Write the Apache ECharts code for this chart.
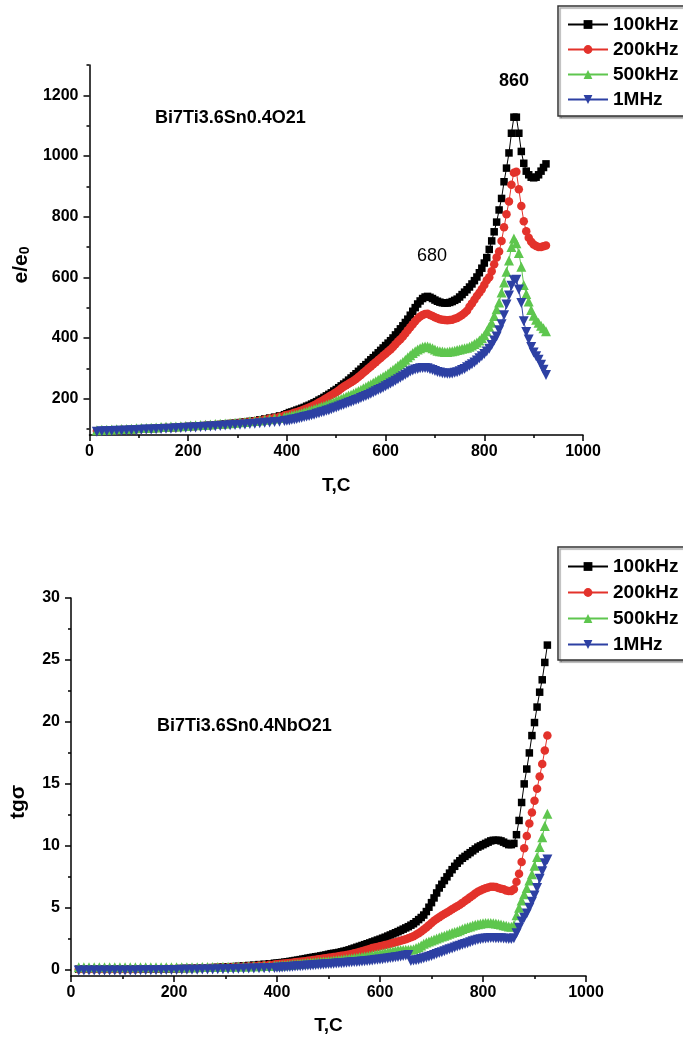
<!DOCTYPE html>
<html>
<head>
<meta charset="utf-8">
<script src="https://cdn.jsdelivr.net/npm/echarts@6/dist/echarts.min.js"></script>
<style>
  body { margin: 0; background: #fff; }
  #chartTop { position: absolute; left: 0; top: 0; width: 683px; height: 520px; }
  #chartBottom { position: absolute; left: 0; top: 520px; width: 683px; height: 520px; }
</style>
</head>
<body>
<div id="chartTop"></div>
<div id="chartBottom"></div>
<script>
// temperature, C (shared by both plots)
var temps = [
  15,25,35,45,55,65,75,85,95,105,
  115,125,135,145,155,165,175,185,195,205,
  215,225,235,245,255,265,275,285,295,305,
  315,325,335,345,355,365,375,385,395,
  400,405,410,415,420,425,430,435,440,445,
  450,455,460,465,470,475,480,485,490,495,
  500,505,510,515,520,525,530,535,540,545,
  550,555,560,565,570,575,580,585,590,595,
  600,605,610,615,620,625,630,635,640,645,
  650,655,660,665,670,675,680,685,690,695,
  700,705,710,715,720,725,730,735,740,745,
  750,755,760,765,770,775,780,785,790,795,
  800,805,810,815,820,825,830,835,840,845,
  850,855,860,865,870,875,880,885,890,895,
  900,905,910,915,920,925
];

// e/e0
var eps100k = [
  93,94,95,95,96,97,97,98,99,100,
  100,101,102,103,104,104,105,106,107,108,
  109,110,111,112,113,115,116,118,119,121,
  123,125,127,130,133,136,139,143,147,
  150,154,156,159,162,165,168,171,175,178,
  182,186,190,195,199,204,209,214,219,225,
  230,236,242,248,254,261,268,275,282,290,
  297,305,312,320,328,335,343,351,359,367,
  375,383,391,400,410,420,430,440,451,462,
  475,488,500,512,522,530,535,537,534,530,
  525,521,518,516,515,515,517,520,524,528,
  535,543,551,559,568,578,589,601,615,630,
  647,665,692,720,750,782,822,860,915,960,
  1010,1075,1128,1128,1075,1015,976,950,938,930,
  928,930,938,950,962,974
];
var eps200k = [
  93,94,95,95,96,97,97,98,99,100,
  100,101,102,103,104,104,105,106,107,108,
  109,110,111,112,113,114,115,117,118,120,
  122,124,126,128,131,134,137,140,144,
  146,148,150,153,155,158,161,164,167,171,
  174,178,182,187,191,196,201,206,211,216,
  221,227,233,239,244,249,254,259,265,271,
  278,285,292,299,306,313,320,327,334,341,
  348,355,362,370,379,388,396,405,415,425,
  435,445,455,464,471,476,479,480,476,472,
  468,465,462,460,459,458,459,460,463,466,
  471,476,482,490,503,514,526,538,549,561,
  575,590,600,620,643,665,685,720,765,808,
  850,905,945,948,890,835,785,752,730,717,
  708,703,700,700,702,705
];
var eps500k = [
  96,97,97,98,99,100,100,101,102,103,
  103,104,105,106,107,108,108,109,110,111,
  112,113,114,115,116,117,118,119,120,122,
  123,125,126,128,130,132,134,136,139,
  140,142,144,146,148,150,152,155,157,160,
  162,165,167,170,173,176,179,182,185,189,
  192,196,199,203,206,210,213,217,221,225,
  229,234,238,243,247,252,257,262,267,272,
  277,283,289,295,301,308,314,321,328,336,
  343,350,356,362,366,370,372,372,369,366,
  362,358,356,355,354,354,355,356,358,360,
  362,364,366,368,371,375,380,385,392,400,
  409,422,437,450,472,495,517,550,583,618,
  655,700,728,712,680,635,575,545,520,492,
  473,460,450,440,432,422
];
var eps1M = [
  91,92,92,93,94,94,95,96,96,97,
  98,98,99,100,101,101,102,103,104,105,
  105,106,107,108,109,110,111,112,113,114,
  115,116,117,119,120,121,123,124,126,
  127,128,130,131,133,135,137,139,141,143,
  145,147,150,152,155,157,160,162,165,168,
  171,174,177,180,183,186,189,192,195,198,
  202,205,209,212,216,220,224,228,232,236,
  241,245,250,254,259,264,269,274,279,284,
  289,293,296,298,300,301,301,300,297,294,
  291,288,286,284,283,282,282,283,285,287,
  290,294,298,303,308,313,319,326,333,340,
  347,355,364,377,392,405,425,445,475,510,
  540,572,590,592,560,515,455,420,395,370,
  352,340,328,312,295,278
];

// tg sigma
var tg100k = [
  0.05,0.05,0.05,0.05,0.05,0.05,0.05,0.05,0.05,0.05,
  0.05,0.05,0.06,0.06,0.06,0.07,0.07,0.08,0.08,0.09,
  0.1,0.11,0.12,0.13,0.14,0.16,0.18,0.2,0.22,0.24,
  0.26,0.29,0.32,0.35,0.38,0.42,0.45,0.49,0.53,
  0.54,0.56,0.59,0.62,0.65,0.68,0.71,0.75,0.78,0.82,
  0.86,0.9,0.94,0.98,1.01,1.05,1.08,1.12,1.16,1.2,
  1.25,1.3,1.33,1.36,1.4,1.45,1.5,1.55,1.61,1.68,
  1.75,1.82,1.89,1.96,2.03,2.1,2.17,2.25,2.32,2.4,
  2.47,2.55,2.63,2.72,2.81,2.9,2.99,3.08,3.18,3.28,
  3.38,3.48,3.6,3.72,3.88,4.05,4.22,4.42,4.7,5.05,
  5.42,5.8,6.2,6.6,6.9,7.2,7.5,7.8,8.08,8.35,
  8.6,8.8,9.0,9.15,9.3,9.45,9.6,9.75,9.9,10.0,
  10.1,10.2,10.3,10.4,10.45,10.45,10.45,10.4,10.3,10.2,
  10.1,10.1,10.2,10.9,12.05,13.5,15.0,16.2,17.5,18.9,
  19.95,21.2,22.4,23.4,24.8,26.2
];
var tg200k = [
  0.05,0.05,0.05,0.05,0.05,0.05,0.05,0.05,0.05,0.05,
  0.05,0.05,0.06,0.06,0.06,0.07,0.07,0.08,0.08,0.09,
  0.1,0.11,0.12,0.13,0.14,0.15,0.16,0.18,0.19,0.21,
  0.23,0.25,0.27,0.29,0.31,0.34,0.37,0.4,0.43,
  0.45,0.47,0.49,0.51,0.53,0.55,0.57,0.6,0.62,0.65,
  0.67,0.7,0.73,0.76,0.79,0.82,0.85,0.88,0.91,0.94,
  0.97,1.0,1.03,1.06,1.09,1.13,1.16,1.2,1.24,1.28,
  1.33,1.38,1.44,1.5,1.56,1.62,1.68,1.75,1.8,1.85,
  1.9,1.95,2.0,2.05,2.11,2.17,2.22,2.28,2.34,2.4,
  2.47,2.55,2.62,2.7,2.82,2.95,3.1,3.25,3.42,3.6,
  3.78,3.95,4.1,4.25,4.38,4.5,4.62,4.75,4.88,5.0,
  5.12,5.25,5.4,5.55,5.7,5.85,6.0,6.15,6.3,6.4,
  6.5,6.58,6.65,6.7,6.7,6.68,6.6,6.55,6.5,6.4,
  6.35,6.35,6.5,7.1,7.75,8.7,9.8,10.8,11.8,12.7,
  13.65,14.6,15.6,16.6,17.7,18.9
];
var tg500k = [
  0.2,0.2,0.2,0.2,0.2,0.2,0.2,0.2,0.2,0.2,
  0.2,0.2,0.2,0.2,0.2,0.2,0.2,0.2,0.2,0.2,
  0.2,0.2,0.21,0.21,0.22,0.22,0.23,0.23,0.24,0.24,
  0.25,0.26,0.26,0.27,0.28,0.29,0.3,0.31,0.32,
  0.33,0.34,0.36,0.37,0.39,0.4,0.42,0.44,0.46,0.48,
  0.5,0.52,0.54,0.56,0.58,0.6,0.62,0.64,0.66,0.68,
  0.7,0.72,0.75,0.77,0.8,0.82,0.85,0.87,0.9,0.92,
  0.95,0.98,1.01,1.04,1.07,1.1,1.14,1.18,1.22,1.26,
  1.3,1.34,1.38,1.42,1.46,1.5,1.54,1.58,1.59,1.6,
  1.61,1.62,1.63,1.66,1.75,1.85,1.97,2.1,2.2,2.28,
  2.37,2.45,2.53,2.6,2.68,2.75,2.83,2.9,2.98,3.05,
  3.12,3.2,3.3,3.37,3.44,3.5,3.57,3.63,3.68,3.72,
  3.75,3.77,3.78,3.78,3.76,3.73,3.7,3.66,3.6,3.55,
  3.5,3.48,3.6,4.4,5.0,5.6,6.1,6.6,7.2,7.7,
  8.4,9.1,9.9,10.7,11.6,12.6
];
var tg1M = [
  -0.05,-0.05,-0.05,-0.05,-0.05,-0.05,-0.05,-0.05,-0.05,-0.05,
  -0.05,-0.05,-0.04,-0.04,-0.04,-0.03,-0.03,-0.02,-0.02,-0.01,
  0,0,0.01,0.01,0.02,0.03,0.03,0.04,0.05,0.06,
  0.07,0.08,0.09,0.1,0.11,0.12,0.13,0.14,0.15,
  0.16,0.17,0.19,0.2,0.22,0.23,0.25,0.26,0.28,0.29,
  0.31,0.32,0.34,0.35,0.37,0.38,0.4,0.41,0.43,0.44,
  0.46,0.47,0.49,0.5,0.52,0.53,0.55,0.56,0.58,0.6,
  0.62,0.63,0.65,0.67,0.69,0.71,0.74,0.76,0.79,0.81,
  0.84,0.86,0.89,0.92,0.95,0.98,1.01,1.04,1.08,1.12,
  1.16,1.2,0.72,0.75,0.78,0.82,0.87,0.93,0.99,1.05,
  1.12,1.2,1.27,1.35,1.42,1.5,1.57,1.65,1.72,1.8,
  1.88,1.95,2.02,2.08,2.15,2.22,2.3,2.37,2.42,2.47,
  2.5,2.53,2.55,2.56,2.56,2.55,2.55,2.54,2.52,2.5,
  2.48,2.48,2.55,2.95,3.4,3.9,4.2,4.55,5.0,5.5,
  6.0,6.6,7.35,7.95,8.6,8.9
];

var freqNames = ['100kHz', '200kHz', '500kHz', '1MHz'];

// tick labels / tick positions
var xLabelValues = [0, 200, 400, 600, 800, 1000];
var xMinorTicks = [100, 300, 500, 700, 900];
var epsLabelValues = [200, 400, 600, 800, 1000, 1200];
var epsMinorTicks = [100, 300, 500, 700, 900, 1100, 1300];
var tgLabelValues = [0, 5, 10, 15, 20, 25, 30];
var tgMinorTicks = [2.5, 7.5, 12.5, 17.5, 22.5, 27.5];

var FONT = '"Liberation Sans", Arial, sans-serif';
var colors = ['#000000', '#e3322b', '#5ec64e', '#2d40a3'];
var symbols = ['rect', 'circle', 'triangle', 'triangle'];
var rotations = [0, 0, 0, 180];
var sizes = [7.5, 8.5, 10, 10];

function pairs(values) {
  return temps.map(function (t, i) { return [t, values[i]]; });
}

function plainNumber(v) {
  return String(v);
}

function makeSeries(lists) {
  return lists.map(function (values, i) {
    return {
      name: freqNames[i],
      type: 'line',
      data: pairs(values),
      symbol: symbols[i],
      symbolSize: sizes[i],
      symbolRotate: rotations[i],
      itemStyle: { color: colors[i] },
      lineStyle: { color: colors[i], width: 1 },
      emphasis: { disabled: true }
    };
  });
}

function makeLegend(top, pad) {
  return {
    data: freqNames,
    orient: 'vertical',
    left: 558,
    top: top,
    itemWidth: 40,
    itemHeight: 11,
    itemGap: pad.gap,
    padding: [pad.top, 14, pad.bottom, 9],
    backgroundColor: '#fff',
    borderColor: '#333',
    borderWidth: 1.5,
    shadowColor: 'rgba(0,0,0,0.35)',
    shadowBlur: 1,
    shadowOffsetX: 2,
    shadowOffsetY: 2,
    selectedMode: false,
    textStyle: { fontFamily: FONT, fontWeight: 'bold', fontSize: 19, lineHeight: 18, color: '#000' }
  };
}

function xAxes(nameGap) {
  var line = { color: '#000', width: 1.5 };
  return [{
    type: 'value', min: 0, max: 1000, position: 'bottom',
    axisLine: { show: true, onZero: false, lineStyle: line },
    axisTick: { show: true, customValues: xLabelValues, length: 6, lineStyle: line },
    axisLabel: { customValues: xLabelValues, formatter: plainNumber, fontFamily: FONT, fontWeight: 'bold', fontSize: 16, color: '#000', margin: 9 },
    splitLine: { show: false },
    name: 'T,C', nameLocation: 'middle', nameGap: nameGap,
    nameTextStyle: { fontFamily: FONT, fontWeight: 'bold', fontSize: 19, color: '#000' }
  }, {
    type: 'value', min: 0, max: 1000, position: 'bottom',
    axisLine: { show: false, onZero: false },
    axisTick: { show: true, customValues: xMinorTicks, length: 3, lineStyle: line },
    axisLabel: { show: false },
    splitLine: { show: false }
  }];
}

function yAxes(min, max, labels, minors, name, nameGap, rich) {
  var line = { color: '#000', width: 1.5 };
  return [{
    type: 'value', min: min, max: max, position: 'left',
    axisLine: { show: true, onZero: false, lineStyle: line },
    axisTick: { show: true, customValues: labels, length: 6, lineStyle: line },
    axisLabel: { customValues: labels, formatter: plainNumber, fontFamily: FONT, fontWeight: 'bold', fontSize: 16, color: '#000', margin: 11 },
    splitLine: { show: false },
    name: name, nameLocation: 'middle', nameGap: nameGap,
    nameTextStyle: { fontFamily: FONT, fontWeight: 'bold', fontSize: 21, color: '#000', padding: [0, 30, 0, 0], rich: rich }
  }, {
    type: 'value', min: min, max: max, position: 'left',
    axisLine: { show: false, onZero: false },
    axisTick: { show: true, customValues: minors, length: 3, lineStyle: line },
    axisLabel: { show: false },
    splitLine: { show: false }
  }];
}

// e/e0 versus T
function getOptionPermittivity() {
  return {
    animation: false,
    backgroundColor: '#fff',
    grid: { left: 82, top: 65, width: 501, height: 370 },
    legend: makeLegend(6, { top: 9, bottom: 7, gap: 6 }),
    xAxis: xAxes(41),
    yAxis: yAxes(80, 1300, epsLabelValues, epsMinorTicks, 'e/e{sub|0}', 56, {
      sub: { fontFamily: FONT, fontWeight: 'bold', fontSize: 14, lineHeight: 14, padding: [10, 0, 0, 0], verticalAlign: 'bottom' }
    }),
    graphic: [
      { type: 'text', left: 155, top: 109, style: { text: 'Bi7Ti3.6Sn0.4O21', font: 'bold 18px ' + FONT, fill: '#000' } },
      { type: 'text', left: 499, top: 72, style: { text: '860', font: 'bold 18px ' + FONT, fill: '#000' } },
      { type: 'text', left: 417, top: 247, style: { text: '680', font: '18px ' + FONT, fill: '#000' } }
    ],
    series: makeSeries([eps100k, eps200k, eps500k, eps1M])
  };
}

// tg sigma versus T
function getOptionLoss() {
  return {
    animation: false,
    backgroundColor: '#fff',
    grid: { left: 67.5, top: 78, width: 518.5, height: 380 },
    legend: makeLegend(27, { top: 10, bottom: 6, gap: 7 }),
    xAxis: xAxes(40),
    yAxis: yAxes(-0.5, 30, tgLabelValues, tgMinorTicks, 'tgσ', 42, null),
    graphic: [
      { type: 'text', left: 157, top: 197, style: { text: 'Bi7Ti3.6Sn0.4NbO21', font: 'bold 18px ' + FONT, fill: '#000' } }
    ],
    series: makeSeries([tg100k, tg200k, tg500k, tg1M])
  };
}

var chartTop = echarts.init(document.getElementById('chartTop'));
chartTop.setOption(getOptionPermittivity());

var chartBottom = echarts.init(document.getElementById('chartBottom'));
chartBottom.setOption(getOptionLoss());
</script>
</body>
</html>
